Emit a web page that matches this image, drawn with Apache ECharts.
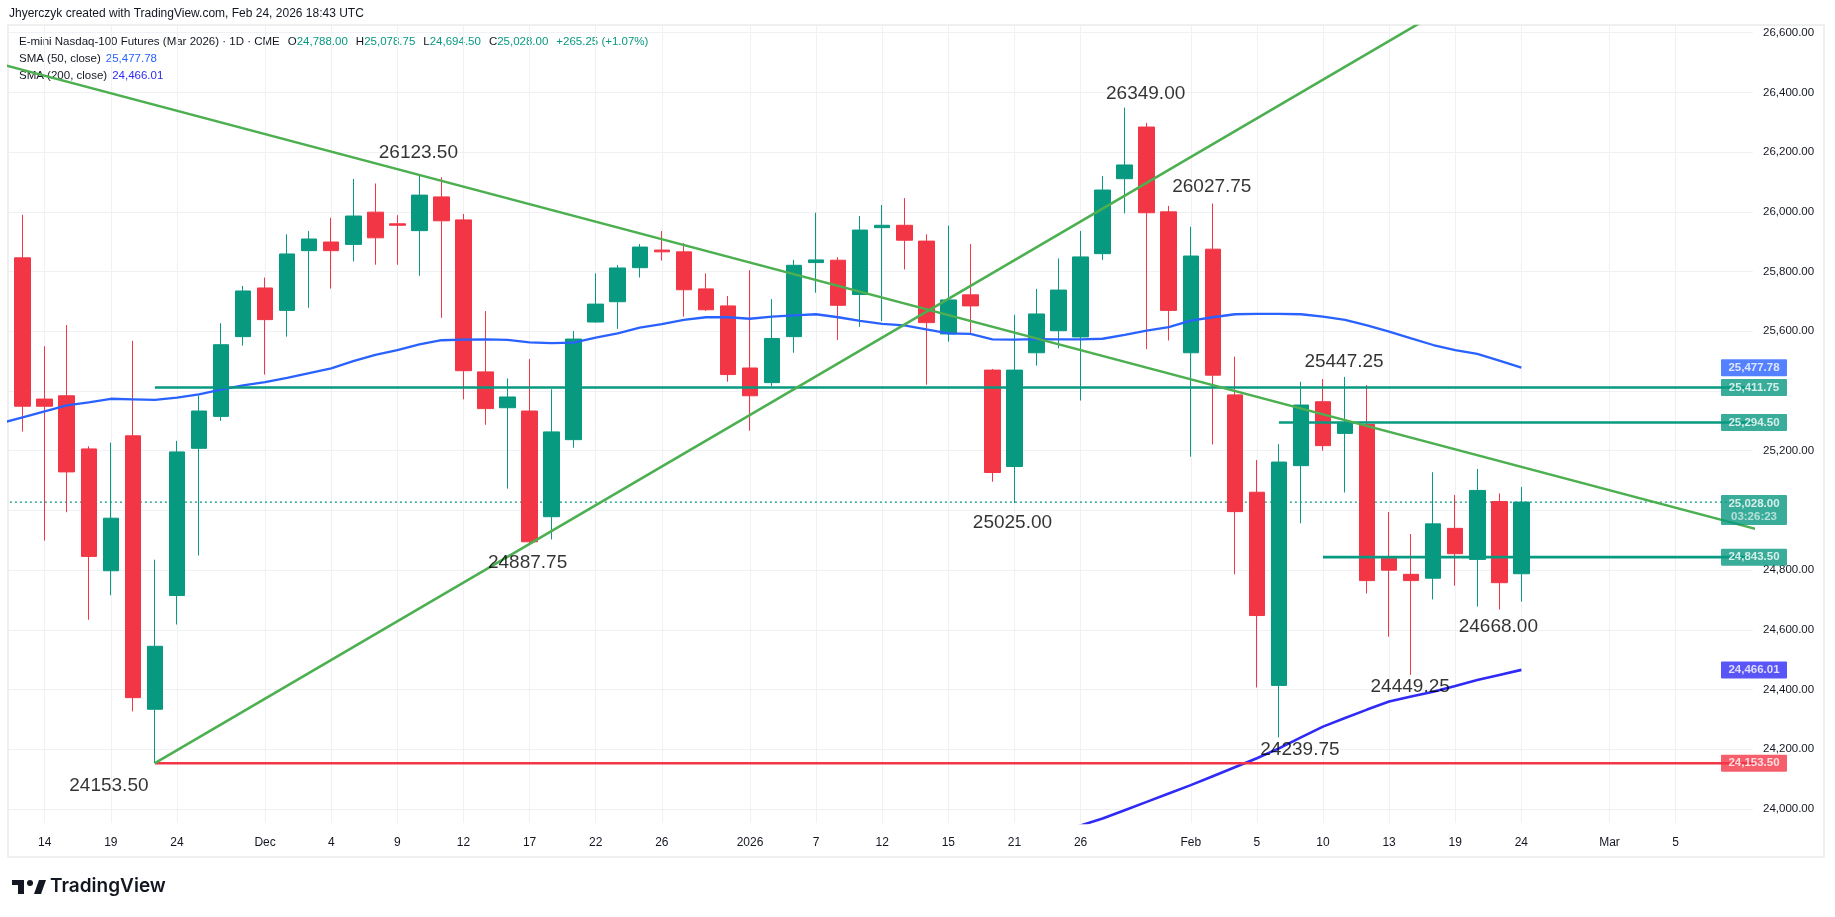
<!DOCTYPE html>
<html><head><meta charset="utf-8"><title>E-mini Nasdaq-100 Futures</title>
<script src="https://cdn.jsdelivr.net/npm/echarts@6.0.0/dist/echarts.min.js"></script>
<style>html,body{margin:0;padding:0;background:#ffffff;overflow:hidden}#chart{width:1835px;height:917px}</style>
</head><body><div id="chart"></div>
<script>
// ---------------- DATA ----------------
const dates = ['2025-11-13','2025-11-14','2025-11-17','2025-11-18','2025-11-19','2025-11-20','2025-11-21','2025-11-24','2025-11-25','2025-11-26','2025-11-28',
 '2025-12-01','2025-12-02','2025-12-03','2025-12-04','2025-12-05','2025-12-08','2025-12-09','2025-12-10','2025-12-11','2025-12-12',
 '2025-12-15','2025-12-16','2025-12-17','2025-12-18','2025-12-19','2025-12-22','2025-12-23','2025-12-24','2025-12-26','2025-12-29','2025-12-30','2025-12-31',
 '2026-01-02','2026-01-05','2026-01-06','2026-01-07','2026-01-08','2026-01-09','2026-01-12','2026-01-13','2026-01-14','2026-01-15','2026-01-16',
 '2026-01-20','2026-01-21','2026-01-22','2026-01-23','2026-01-26','2026-01-27','2026-01-28','2026-01-29','2026-01-30',
 '2026-02-02','2026-02-03','2026-02-04','2026-02-05','2026-02-06','2026-02-09','2026-02-10','2026-02-11','2026-02-12','2026-02-13',
 '2026-02-17','2026-02-18','2026-02-19','2026-02-20','2026-02-23','2026-02-24'];
const opens = [25846,25373,25384,25206,24798,25250,24334,24715,25208,25315,25582,
 25745,25670,25870,25899,25891, 25999,25960,25937,26050,25973,
 25464,25344,25333,24979,25237, 25631,25699,25813,25872, 25866,25742,25685,
 25477, 25428,25582,25830,25838,25723, 25947,25955,25902,25591,25722,
 25470,25147,25528,25602, 25581,25860,26111,26284,26000,
 25528,25875,25387,25061,24414, 25150,25364,25258,25288,24840,
 24786,24773,24940,24836, 25030, 24788];
const highs = [25990,25550,25621,25215,25227,25568,24835,25233,25385,25627,25752,
 25780,25925,25936,25980,26110, 26095,25989,26123.5,26116,25993,
 25668,25442,25507,25406,25601, 25794,25822,25892,25936, 25895,25794,25718,
 25805, 25708,25839,25997,25848,25986, 26023,26046,25925,25954,25892,
 25474,25655,25742,25844, 25936,26120,26349,26298,26020,
 25950,26027.75,25515,25169,25222, 25431,25440,25447.25,25420,24995,
 24921,25128,25052,25139, 25057, 25078.75];
const lows = [25264,24899,24994,24634,24716,24327,24153.5,24618,24849,25300,25552,
 25455,25582,25679,25743,25834, 25823,25823,25786,25645,25372,
 25287,25073,24887.75,24903,25210, 25629,25608,25780,25837, 25649,25668,25431,
 25267, 25415,25528,25729,25571,25615, 25634,25807,25421,25565,25591,
 25096,25025,25485,25543, 25368,25839,25995,25540,25569,
 25180,25221,24786,24407,24239.75, 24957,25200,25060,24722,24577,
 24449.25,24702,24748,24678, 24668, 24694.5];
const closes = [25349,25349,25129,24846,24974,24373,24545,25196,25333,25555,25735,
 25639,25859,25909,25870,25986, 25913,25955,26056,25970,25468,
 25341,25380,24895,25263,25574, 25691,25812,25882,25866, 25739,25672,25455,
 25384, 25576,25821,25839,25687,25939, 25955,25905,25629,25705,25685,
 25127,25470,25658,25738, 25849,26073,26157,25997,25670,
 25852,25453,24996,24648,25162, 25353,25217,25292,24765,24800,
 24765,24955,24855,25067, 24758, 25028];
const sma50Start = -1;
const sma50 = [25292, 25312,25332,25352,25362,25374,25372,25370,25378,25389,25405,25419,
 25430,25444,25460,25476,25500, 25521,25537,25556,25570,25572,
 25573,25571,25563,25560,25562, 25579,25593,25612,25624, 25638,25647,25647,
 25642, 25649,25653,25657,25647,25635, 25625,25620,25606,25593,25591,
 25573,25572,25574,25573, 25573,25575,25588,25602,25614,
 25636,25647,25657,25658,25658, 25657,25649,25638,25620,25599,
 25576,25554,25537,25524, 25502, 25478];
const sma200Start = 46;
const sma200 = [23890,23918,23945,23968,23996,24024,24052,24080,24110,24140,24170,24203,
 24240,24276,24305,24333,24360,24377,24393,24412,24432,24449,24466];
const xTickIdx  = [1,4,7,11,14,17,20,23,26,29,33,36,39,42,45,48,53,56,59,62,65,68,72,75];
const xTickText = ['14','19','24','Dec','4','9','12','17','22','26','2026','7','12','15','21','26','Feb','5','10','13','19','24','Mar','5'];
const priceGridTicks  = [24000,24200,24400,24600,24800,25000,25200,25400,25600,25800,26000,26200,26400,26600];
const priceLabelTicks = [24000,24200,24400,24600,24800,25200,25600,25800,26000,26200,26400,26600];
const trendDown = [[-2, 26514.5],[80, 24911.4]];
const trendUp   = [[6, 24153.5],[66, 26745]];
const levelValues = [25411.75, 25294.5, 24843.5, 24153.5];
const levelStart  = [6, 57, 59, 6];
const lastPrice = 25028.00;
const countdown = '03:26:23';
const tagValues = [25477.78, 25411.75, 25294.50, 25028.00, 24843.50, 24466.01, 24153.50];
const annoIdx    = [18, 50, 54, 60, 23, 45, 67, 63, 57, 6];
const annoValues = [26123.5, 26349, 26027.75, 25447.25, 24887.75, 25025, 24668, 24449.25, 24239.75, 24153.5];
const headerText = 'Jhyerczyk created with TradingView.com, Feb 24, 2026 18:43 UTC';
const symbolTitle = 'E-mini Nasdaq-100 Futures (Mar 2026) · 1D · CME';
const ohlcText = ['24,788.00','25,078.75','24,694.50','25,028.00'];
const changeText = '+265.25 (+1.07%)';
const smaNames = ['SMA (50, close)','SMA (200, close)'];
const smaValues = ['25,477.78','24,466.01'];

// ---------------- STYLE / LAYOUT ----------------
const X_MIN = -0.62, X_MAX = 78.51, Y_MIN = 23953.2, Y_MAX = 26622.4;
const UP = '#089981', DOWN = '#f23645', TREND = '#4caf50', SMA50C = '#2962ff', SMA200C = '#2f2af5';
const TXT = '#131722', FONT = '"Liberation Sans", Arial, sans-serif';
const LF = '11.5px ' + FONT;
const tagColors = [SMA50C, UP, UP, UP, UP, SMA200C, DOWN];
const annoOffsets = [[-1,-22],[21,-14],[-1,-17],[-1,-15],[-2,19],[-2,20],[-1,17],[-1,12],[21,12],[-46,23]];

function fmt(v){ return v.toLocaleString('en-US',{minimumFractionDigits:2, maximumFractionDigits:2}); }

const candleData = opens.map((o,i)=>[i, o, closes[i], lows[i], highs[i]]);
const lineSeries = (data, color, width, z, extra) => Object.assign({
  type:'line', data, symbol:'none', silent:true, animation:false, z,
  lineStyle:{color, width}, emphasis:{disabled:true}
}, extra || {});

const series = [];
series.push(lineSeries([[X_MIN-2, lastPrice],[X_MAX+2, lastPrice]], UP, 1, 2, {lineStyle:{color:UP,width:1.2,type:[2,3]}}));
series.push({type:'candlestick', data:candleData, barWidth:16, z:5, silent:true,
  itemStyle:{color:UP,color0:DOWN,borderColor:UP,borderColor0:DOWN,borderWidth:1}});
series.push(lineSeries(sma50.map((v,k)=>[sma50Start+k, v]), SMA50C, 2.3, 6));
series.push(lineSeries(sma200.map((v,k)=>[sma200Start+k, v]), SMA200C, 2.6, 6));
levelValues.forEach((v,k)=>{
  series.push(lineSeries([[levelStart[k], v],[X_MAX+2, v]], k===3?DOWN:UP, 2.6, 7));
});
series.push(lineSeries(trendDown, TREND, 2.6, 8));
series.push(lineSeries(trendUp, TREND, 2.6, 8));
// annotations
series.push({type:'scatter', clip:false, silent:true, symbolSize:0, z:10,
  data: annoValues.map((v,k)=>({value:[annoIdx[k], v],
    label:{show:true, position:'inside', offset:annoOffsets[k], formatter: v.toFixed(2),
      fontSize:19, fontFamily:FONT, color:'#000000', lineHeight:20}}))});
// price axis tags
series.push({type:'scatter', clip:false, silent:true, symbolSize:0, z:20,
  data: tagValues.map((v,k)=>{
    const isLast = v === lastPrice;
    const lab = {show:true, position:'right', distance:1, backgroundColor:tagColors[k], color:'#fff',
      fontFamily:FONT, fontSize:11.5, fontWeight:'bold', padding:[3,6,2,6], width:54, align:'center', lineHeight:12, borderRadius:1,
      formatter: fmt(v)};
    if (isLast) {
      lab.formatter = '{a|' + fmt(v) + '}\n{b|' + countdown + '}';
      lab.offset = [0, 8];
      lab.padding = [2,6,2,6];
      lab.rich = {a:{color:'#fff',fontSize:11.5,fontWeight:'bold',fontFamily:FONT,lineHeight:13,width:54,align:'center'},
                  b:{color:'rgba(255,255,255,0.78)',fontSize:11.5,fontFamily:FONT,lineHeight:13,width:54,align:'center'}};
    }
    return {value:[X_MAX, v], label:lab};
  })});

const option = {
  animation:false,
  backgroundColor:'#ffffff',
  textStyle:{fontFamily:FONT},
  grid:{left:9, top:26, width:1744, height:797, containLabel:false, outerBoundsMode:'none', show:false},
  xAxis:{type:'value', min:X_MIN, max:X_MAX, position:'bottom',
    axisLine:{show:false}, axisTick:{show:false, customValues:xTickIdx},
    axisLabel:{customValues:xTickIdx, margin:14, color:TXT, fontSize:12, fontFamily:FONT,
      formatter:(v)=>{const k = xTickIdx.indexOf(Math.round(v)); return k>=0 ? xTickText[k] : '';}},
    splitLine:{show:true, lineStyle:{color:'#f0f1f4', width:1}}},
  yAxis:{type:'value', min:Y_MIN, max:Y_MAX, position:'right', scale:true,
    axisLine:{show:false}, axisTick:{show:false, customValues:priceGridTicks},
    axisLabel:{customValues:priceLabelTicks, margin:10, align:'left', color:TXT, fontSize:11.5, fontFamily:FONT,
      formatter:(v)=>fmt(v)},
    splitLine:{show:true, lineStyle:{color:'#f0f1f4', width:1}}},
  series,
  graphic:[
    {type:'rect', shape:{x:8,y:25,width:1816,height:832}, style:{fill:'transparent', stroke:'#efefef', lineWidth:2}, z:-10, silent:true},
    {type:'text', x:9, y:8, style:{text:headerText, font:'12px ' + FONT, fill:TXT}, silent:true},
    {type:'text', x:19, y:36, silent:true, style:{
      text:'{t|' + symbolTitle + '}{s| }{k|O}{v|' + ohlcText[0] + '}{s| }{k|H}{v|' + ohlcText[1] + '}{s| }{k|L}{v|' + ohlcText[2] + '}{s| }{k|C}{v|' + ohlcText[3] + '}{s| }{v|' + changeText + '}',
      font:LF, fill:TXT,
      rich:{t:{fill:TXT,font:LF}, k:{fill:TXT,font:LF}, v:{fill:UP,font:LF}, s:{font:LF, width:8}}}},
    {type:'text', x:19, y:53, silent:true, style:{
      text:'{t|' + smaNames[0] + '}{s| }{v|' + smaValues[0] + '}', font:LF, fill:TXT,
      rich:{t:{fill:TXT,font:LF}, v:{fill:SMA50C,font:LF}, s:{width:5,font:LF}}}},
    {type:'text', x:19, y:70, silent:true, style:{
      text:'{t|' + smaNames[1] + '}{s| }{v|' + smaValues[1] + '}', font:LF, fill:TXT,
      rich:{t:{fill:TXT,font:LF}, v:{fill:SMA200C,font:LF}, s:{width:5,font:LF}}}},
    // TradingView logo
    {type:'rect', shape:{x:12,y:880,width:12,height:5}, style:{fill:TXT}, silent:true},
    {type:'rect', shape:{x:18,y:880,width:6,height:14}, style:{fill:TXT}, silent:true},
    {type:'circle', shape:{cx:30,cy:883,r:3}, style:{fill:TXT}, silent:true},
    {type:'polygon', shape:{points:[[34,894],[39,880],[46,880],[41,894]]}, style:{fill:TXT}, silent:true},
    {type:'text', x:50, y:877, silent:true, style:{text:'TradingView', font:'600 19px "Inter", ' + FONT, fill:TXT}}
  ]
};
const chart = echarts.init(document.getElementById('chart'), null, {renderer:'canvas'});
chart.setOption(option);
</script></body></html>
